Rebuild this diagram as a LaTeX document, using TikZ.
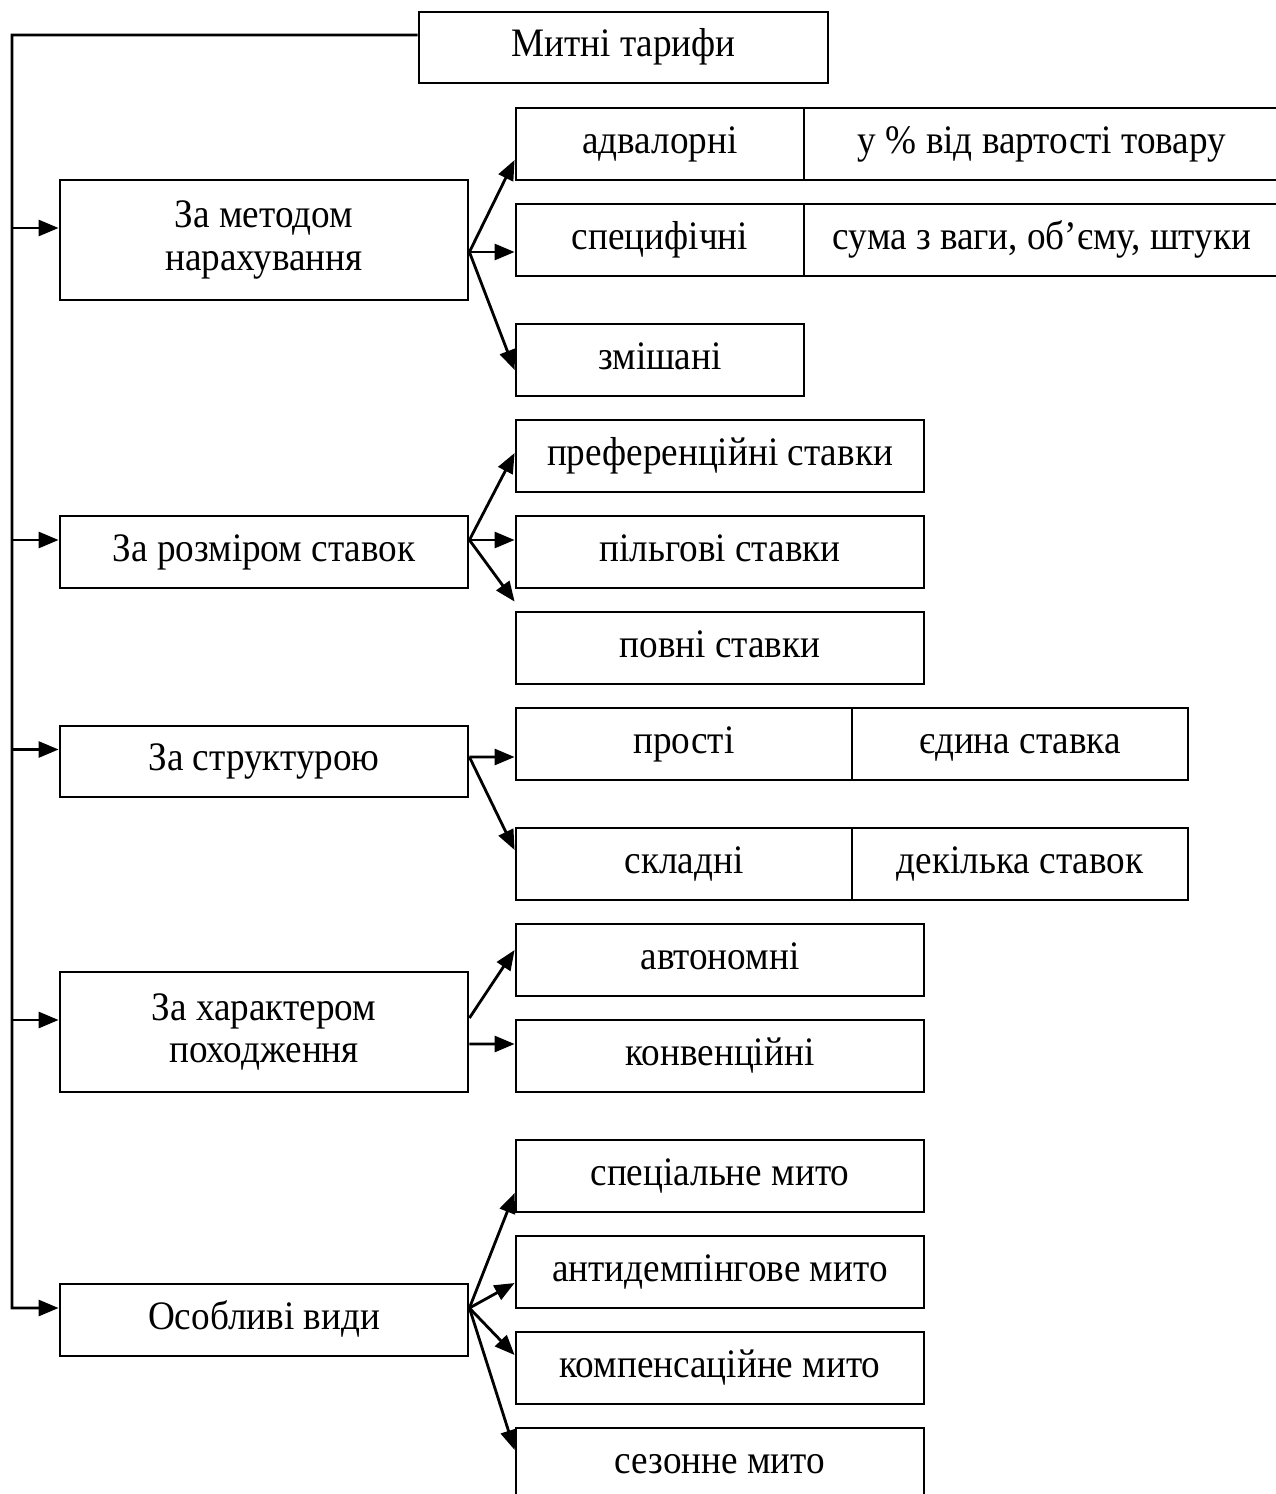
\documentclass[tikz,border=0pt]{standalone}
\usepackage{fontspec}
\setmainfont{Liberation Serif}[FakeStretch=0.92]
\usetikzlibrary{arrows.meta,calc}
\tikzset{
  >={Triangle[length=2mm,width=1.6mm]},
  base/.style={draw,rectangle,inner sep=0pt,align=center,font=\fontsize{11.5}{12.2}\selectfont},
  bx/.style={base,minimum height=7.2mm,text height=0.75em,text depth=0.22em},
  tall/.style={base,minimum height=12mm},
  every picture/.style={line width=0.8pt},
}
\begin{document}
\begin{tikzpicture}[x=0.1mm,y=-0.1mm]
\useasboundingbox (0,0) rectangle (1276,1494);
\node[bx,minimum width=40.9mm,minimum height=7.1mm] (root) at (623.5,47.5) {Митні тарифи};
\node[tall,minimum width=40.8mm] (c1) at (264,240) {За методом\\нарахування};
\node[bx,minimum width=40.8mm] (c2) at (264,552) {За розміром ставок};
\node[bx,minimum width=40.8mm,minimum height=7.1mm] (c3) at (264,761.5) {За структурою};
\node[tall,minimum width=40.8mm] (c4) at (264,1032) {За характером\\походження};
\node[bx,minimum width=40.8mm] (c5) at (264,1320) {Особливі види};
\node[bx,minimum width=28.8mm] (s11) at (660,144) {адвалорні};
\node[bx,minimum width=47.6mm] (s11r) at (1042,144) {у \% від вартості товару};
\node[bx,minimum width=28.8mm] (s12) at (660,240) {специфічні};
\node[bx,minimum width=47.6mm] (s12r) at (1042,240) {сума з ваги, об’єму, штуки};
\node[bx,minimum width=28.8mm] (s13) at (660,360) {змішані};
\node[bx,minimum width=40.8mm] (s21) at (720,456) {преференційні ставки};
\node[bx,minimum width=40.8mm] (s22) at (720,552) {пільгові ставки};
\node[bx,minimum width=40.8mm] (s23) at (720,648) {повні ставки};
\node[bx,minimum width=33.6mm] (s31) at (684,744) {прості};
\node[bx,minimum width=33.6mm] (s31r) at (1020,744) {єдина ставка};
\node[bx,minimum width=33.6mm] (s32) at (684,864) {складні};
\node[bx,minimum width=33.6mm] (s32r) at (1020,864) {декілька ставок};
\node[bx,minimum width=40.8mm] (s41) at (720,960) {автономні};
\node[bx,minimum width=40.8mm] (s42) at (720,1056) {конвенційні};
\node[bx,minimum width=40.8mm] (s51) at (720,1176) {спеціальне мито};
\node[bx,minimum width=40.8mm] (s52) at (720,1272) {антидемпінгове мито};
\node[bx,minimum width=40.8mm] (s53) at (720,1368) {компенсаційне мито};
\node[bx,minimum width=40.8mm] (s54) at (720,1464) {сезонне мито};
\coordinate (top) at (12,35);
\foreach \i in {1,...,5} \coordinate (a\i) at ([yshift=1.2mm]c\i.west);
\draw[->] ([yshift=1.25mm]root.west) -- (top) -- (top |- a5) -- (a5);
\foreach \i in {1,...,4} \draw[->] (top |- a\i) -- (a\i);
\draw[->] ([yshift=-1.2mm]c1.east) -- ([yshift=-1.6mm]s11.west);
\draw[->] ([yshift=-1.2mm]c1.east) -- ([yshift=-1.2mm]s12.west);
\draw[->] ([yshift=-1.2mm]c1.east) -- ([yshift=-1mm]s13.west);
\draw[->] ([yshift=1.2mm]c2.east) -- ([yshift=0.3mm]s21.west);
\draw[->] ([yshift=1.2mm]c2.east) -- ([yshift=1.2mm]s22.west);
\draw[->] ([yshift=1.2mm]c2.east) -- ([yshift=0.9mm]s23.north west);
\draw[->] ([yshift=0.45mm]c3.east) -- ([yshift=-1.3mm]s31.west);
\draw[->] ([yshift=0.45mm]c3.east) -- ([yshift=1.4mm]s32.west);
\draw[->] ([yshift=1.4mm]c4.east) -- ([yshift=1mm]s41.west);
\draw[->] ([yshift=-1.2mm]c4.east) -- ([yshift=1.2mm]s42.west);
\draw[->] ([yshift=1.2mm]c5.east) -- ([yshift=-1.7mm]s51.west);
\draw[->] ([yshift=1.2mm]c5.east) -- ([yshift=-1.1mm]s52.west);
\draw[->] ([yshift=1.2mm]c5.east) -- ([yshift=1.3mm]s53.west);
\draw[->] ([yshift=1.2mm]c5.east) -- ([yshift=1.4mm]s54.west);
\end{tikzpicture}
\end{document}
